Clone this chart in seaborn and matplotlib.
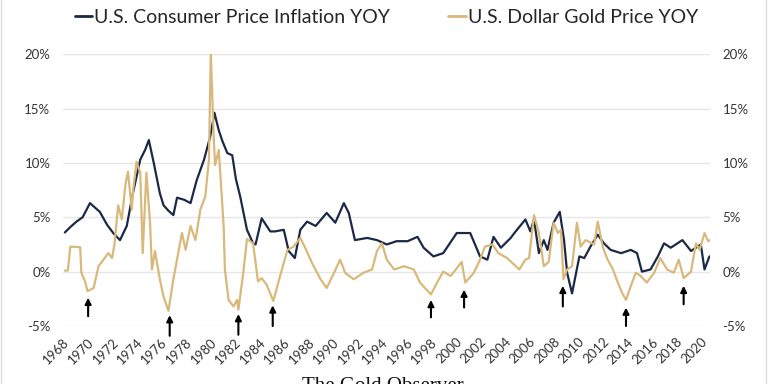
import pandas as pd
import matplotlib
matplotlib.use("Agg")
from matplotlib import pyplot as plt
from matplotlib.lines import Line2D
import seaborn as sns

# values (year, % yoy)
cpi_year = [1968.15, 1968.6, 1969.1, 1969.6, 1970.2, 1970.6, 1971.0, 1971.6, 1972.1, 1972.65,
            1973.2, 1973.7, 1974.3, 1974.7, 1975.0, 1975.4, 1975.9, 1976.2, 1976.6, 1977.0,
            1977.3, 1977.9, 1978.4, 1978.9, 1979.5, 1980.0, 1980.35, 1980.7, 1981.0, 1981.4,
            1981.8, 1982.1, 1982.45, 1983.0, 1983.5, 1983.7, 1984.2, 1984.9, 1985.3, 1986.0,
            1986.4, 1986.9, 1987.35, 1987.9, 1988.6, 1989.5, 1990.2, 1990.9, 1991.3, 1991.8,
            1992.8, 1993.6, 1994.4, 1995.2, 1996.1, 1996.9, 1997.4, 1998.2, 1999.0, 2000.1,
            2001.2, 2002.0, 2002.6, 2003.1, 2003.7, 2004.5, 2004.8, 2005.7, 2006.1, 2006.4,
            2006.8, 2007.2, 2007.5, 2008.0, 2008.5, 2008.85, 2009.1, 2009.5, 2010.1, 2010.5,
            2011.0, 2011.6, 2012.1, 2012.65, 2013.5, 2014.3, 2014.8, 2015.2, 2015.9, 2016.5,
            2017.0, 2017.55, 2018.5, 2019.2, 2020.0, 2020.3, 2020.7]
cpi_yoy = [3.6, 4.1, 4.6, 5.0, 6.3, 5.9, 5.5, 4.3, 3.55, 2.9,
           4.2, 7.2, 10.3, 11.2, 12.1, 10.0, 7.2, 6.1, 5.6, 5.2,
           6.8, 6.6, 6.3, 8.4, 10.3, 12.4, 14.6, 13.0, 12.0, 10.9,
           10.7, 8.5, 6.9, 3.85, 2.6, 2.5, 4.9, 3.7, 3.7, 3.85,
           1.9, 1.25, 3.85, 4.6, 4.2, 5.4, 4.5, 6.3, 5.4, 2.9,
           3.1, 2.9, 2.5, 2.8, 2.8, 3.2, 2.2, 1.4, 1.7, 3.55,
           3.55, 1.4, 1.1, 3.2, 2.2, 3.1, 3.55, 4.8, 3.7, 4.8,
           1.7, 2.9, 2.0, 4.5, 5.5, 2.9, -0.1, -2.0, 1.4, 1.25,
           2.3, 3.4, 2.6, 2.0, 1.7, 2.0, 1.7, 0.0, 0.2, 1.4,
           2.6, 2.2, 2.9, 1.9, 2.5, 0.2, 1.4]

gold_year = [1968.15, 1968.4, 1968.6, 1969.4, 1969.5, 1969.8, 1970.0, 1970.5, 1970.9, 1971.3,
             1971.7, 1972.0, 1972.2, 1972.5, 1972.8, 1973.1, 1973.3, 1973.6, 1973.75, 1974.0,
             1974.3, 1974.5, 1974.8, 1975.1, 1975.25, 1975.5, 1975.9, 1976.2, 1976.6, 1977.0,
             1977.3, 1977.7, 1978.0, 1978.4, 1978.8, 1979.2, 1979.6, 1979.9, 1980.05, 1980.3,
             1980.4, 1980.7, 1981.1, 1981.2, 1981.5, 1981.9, 1982.2, 1982.3, 1982.7, 1983.0,
             1983.5, 1983.9, 1984.2, 1984.6, 1985.15, 1985.7, 1986.3, 1986.8, 1987.35, 1987.7,
             1988.3, 1989.0, 1989.5, 1990.1, 1990.6, 1991.0, 1991.7, 1992.5, 1993.2, 1993.6,
             1994.0, 1994.4, 1995.0, 1995.8, 1996.6, 1997.1, 1998.0, 1998.5, 1999.0, 1999.6,
             2000.1, 2000.5, 2000.8, 2001.5, 2002.0, 2002.4, 2003.0, 2003.5, 2004.2, 2005.2,
             2005.7, 2006.0, 2006.4, 2006.8, 2007.2, 2007.6, 2008.0, 2008.35, 2008.6, 2008.8,
             2009.1, 2009.5, 2009.9, 2010.2, 2010.6, 2011.3, 2011.6, 2012.0, 2012.4, 2012.8,
             2013.2, 2013.6, 2013.9, 2014.3, 2014.7, 2015.1, 2015.6, 2016.2, 2016.7, 2017.25,
             2017.8, 2018.2, 2018.6, 2019.2, 2019.6, 2019.9, 2020.3, 2020.6, 2020.75]
gold_yoy = [0.1, 0.1, 2.3, 2.25, -0.1, -0.9, -1.8, -1.5, 0.5, 1.1,
            1.7, 1.25, 2.5, 6.1, 4.8, 8.1, 9.2, 5.7, 7.8, 10.1,
            9.1, 1.7, 9.1, 4.5, 0.2, 1.9, -0.7, -2.3, -3.6, -0.7,
            1.1, 3.55, 2.0, 4.2, 2.9, 5.7, 6.9, 10.3, 20.1, 12.1,
            9.8, 11.2, 4.2, 0.2, -2.6, -3.2, -2.6, -3.5, -0.1, 3.0,
            2.6, -0.9, -0.6, -1.2, -2.7, -0.4, 2.0, 2.3, 3.1, 2.3,
            0.8, -0.7, -1.5, -0.1, 1.1, -0.1, -0.7, -0.1, 0.2, 1.9,
            2.6, 1.1, 0.2, 0.5, 0.2, -1.0, -2.1, -1.0, 0.0, -0.4,
            0.3, 0.9, -1.0, -0.1, 1.1, 2.3, 2.5, 1.7, 1.25, 0.2,
            1.1, 1.25, 5.2, 3.55, 0.5, 0.9, 4.5, 3.55, 3.85, -0.7,
            0.2, 0.5, 4.5, 2.3, 2.9, 2.5, 4.6, 2.3, 1.1, 0.3,
            -0.9, -2.0, -2.6, -1.3, -0.1, -0.4, -1.0, -0.1, 1.25, 0.2,
            -0.1, 1.1, -0.6, 0.0, 2.6, 2.0, 3.55, 2.8, 2.9]

# arrows marking the gold lows
arrow_year = [1970.05, 1976.7, 1982.3, 1985.1, 1998.0, 2000.7, 2008.75, 2013.9, 2018.6]
arrow_tip = [-2.4, -4.0, -3.9, -3.1, -2.6, -1.65, -1.3, -3.3, -1.3]
arrow_tail = [-4.1, -5.9, -5.8, -5.0, -4.2, -3.3, -3.2, -5.0, -3.0]

tick_years = list(range(1968, 2021, 2))
y_ticks = [-5, 0, 5, 10, 15, 20]
y_labels = ['-5%', '0%', '5%', '10%', '15%', '20%']

NAVY = '#1c2946'
TAN = '#d9b97b'

sns.set_style('white')
plt.rcParams['font.family'] = ['Lato', 'DejaVu Sans']

cpi_df = pd.DataFrame({'year': cpi_year, 'yoy': cpi_yoy})
gold_df = pd.DataFrame({'year': gold_year, 'yoy': gold_yoy})

fig, ax = plt.subplots(figsize=(7.68, 3.84), dpi=100)
fig.subplots_adjust(left=0.082, right=0.9245, top=0.859, bottom=0.151)

sns.lineplot(data=cpi_df, x='year', y='yoy', ax=ax, color=NAVY, lw=1.6,
             estimator=None, sort=False, zorder=3)
ax2 = ax.twinx()
sns.lineplot(data=gold_df, x='year', y='yoy', ax=ax2, color=TAN, lw=1.6,
             estimator=None, sort=False, zorder=2)

for a in (ax, ax2):
    a.set_ylim(-5, 20)
    a.set_xlim(1968, 2020.75)
    a.set_yticks(y_ticks)
    a.set_yticklabels(y_labels, fontsize=9.5, color='#333333')
    a.set_xlabel('')
    a.set_ylabel('')
    a.tick_params(length=0, pad=9)
    for s in a.spines.values():
        s.set_visible(False)

ax.grid(False)
ax2.grid(False)
for v in y_ticks:
    ax.axhline(v, color='#e6e6e6', lw=1, zorder=0)

ax.set_xticks(tick_years)
ax.set_xticklabels([str(y) for y in tick_years], rotation=45, ha='right',
                   rotation_mode='anchor', fontsize=9.5, color='#333333')
ax.tick_params(axis='x', pad=7)

for yr, tip, tail in zip(arrow_year, arrow_tip, arrow_tail):
    ax2.annotate('', xy=(yr, tip), xytext=(yr, tail),
                 arrowprops=dict(arrowstyle='-|>', color='black', lw=1.5,
                                 mutation_scale=9, shrinkA=0, shrinkB=0),
                 annotation_clip=False)

handles = [Line2D([], [], color=NAVY, lw=2), Line2D([], [], color=TAN, lw=2)]
fig.legend(handles, ['U.S. Consumer Price Inflation YOY', 'U.S. Dollar Gold Price YOY'],
           loc='center', bbox_to_anchor=(0.503, 0.955), ncol=2, frameon=False,
           handlelength=0.9, handletextpad=0.1, columnspacing=3.0,
           prop={'family': ['Lato', 'DejaVu Sans'], 'size': 14})

fig.text(0.499, 0.017, 'The Gold Observer', ha='center', va='top', fontsize=15,
         family=['Liberation Serif', 'DejaVu Serif'], color='#111111')

for xf in (0.001, 0.998):
    fig.add_artist(Line2D([xf, xf], [0, 1], transform=fig.transFigure,
                          color='#dddddd', lw=1))

fig.savefig('out.png', dpi=100)
